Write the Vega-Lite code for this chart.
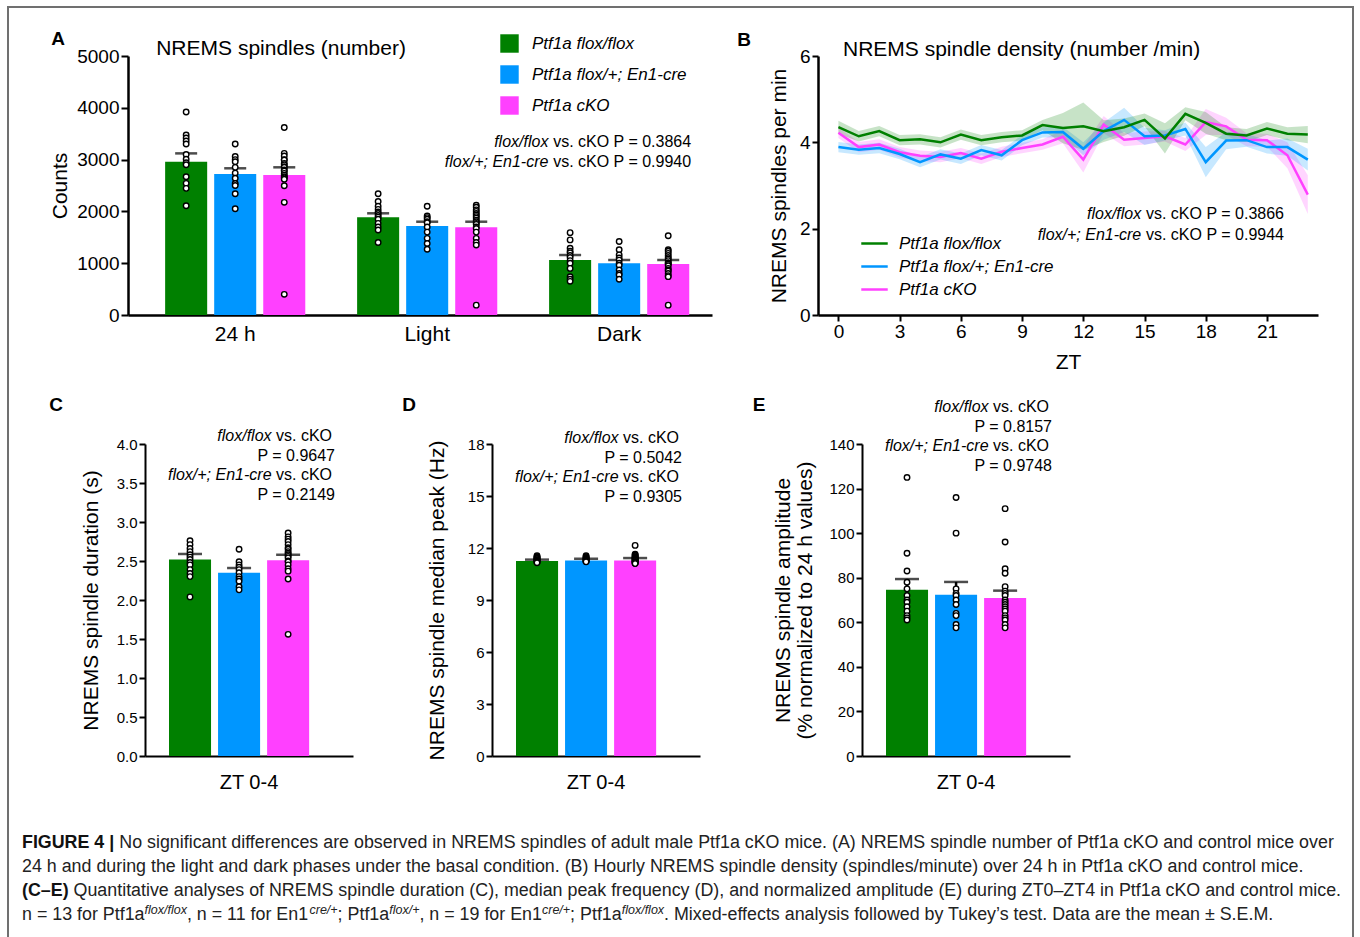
{
"$schema":"https://vega.github.io/schema/vega-lite/v6.json",
"background":"white",
"padding":{"left":7,"top":6,"right":0,"bottom":0},
"config":{"view":{"stroke":null},"font":"Liberation Sans",
"axis":{"domainColor":"black","domainWidth":2.5,"tickColor":"black","tickWidth":2,"labelColor":"black","titleColor":"black","labelFont":"Liberation Sans","titleFont":"Liberation Sans","titleFontWeight":"normal","grid":false,"labelFlush":false,"labelOverlap":false,"labelBound":false},
"text":{"font":"Liberation Sans","color":"black"},
"legend":{"labelFont":"Liberation Sans","labelColor":"black"}},
"datasets":{
"a_bars":[{"p":"24 h","g":"ff","m":2960,"u":3120},{"p":"24 h","g":"fc","m":2722,"u":2832},{"p":"24 h","g":"ko","m":2703,"u":2851},{"p":"Light","g":"ff","m":1886,"u":1963},{"p":"Light","g":"fc","m":1718,"u":1801},{"p":"Light","g":"ko","m":1693,"u":1801},{"p":"Dark","g":"ff","m":1062,"u":1158},{"p":"Dark","g":"fc","m":998,"u":1062},{"p":"Dark","g":"ko","m":985,"u":1062}],
"a_dots":[
{"p":"24 h","g":"ff","v":3920},{"p":"24 h","g":"ff","v":3475},{"p":"24 h","g":"ff","v":3417},{"p":"24 h","g":"ff","v":3360},{"p":"24 h","g":"ff","v":3301},{"p":"24 h","g":"ff","v":3100},{"p":"24 h","g":"ff","v":3006},{"p":"24 h","g":"ff","v":2940},{"p":"24 h","g":"ff","v":2900},{"p":"24 h","g":"ff","v":2670},{"p":"24 h","g":"ff","v":2542},{"p":"24 h","g":"ff","v":2445},{"p":"24 h","g":"ff","v":2110},
{"p":"24 h","g":"fc","v":3300},{"p":"24 h","g":"fc","v":3060},{"p":"24 h","g":"fc","v":3000},{"p":"24 h","g":"fc","v":2960},{"p":"24 h","g":"fc","v":2850},{"p":"24 h","g":"fc","v":2740},{"p":"24 h","g":"fc","v":2640},{"p":"24 h","g":"fc","v":2540},{"p":"24 h","g":"fc","v":2500},{"p":"24 h","g":"fc","v":2340},{"p":"24 h","g":"fc","v":2050},
{"p":"24 h","g":"ko","v":3620},{"p":"24 h","g":"ko","v":3121},{"p":"24 h","g":"ko","v":3069},{"p":"24 h","g":"ko","v":3000},{"p":"24 h","g":"ko","v":2992},{"p":"24 h","g":"ko","v":2928},{"p":"24 h","g":"ko","v":2900},{"p":"24 h","g":"ko","v":2863},{"p":"24 h","g":"ko","v":2850},{"p":"24 h","g":"ko","v":2799},{"p":"24 h","g":"ko","v":2780},{"p":"24 h","g":"ko","v":2735},{"p":"24 h","g":"ko","v":2700},{"p":"24 h","g":"ko","v":2670},{"p":"24 h","g":"ko","v":2650},{"p":"24 h","g":"ko","v":2620},{"p":"24 h","g":"ko","v":2496},{"p":"24 h","g":"ko","v":2175},{"p":"24 h","g":"ko","v":399},
{"p":"Light","g":"ff","v":2340},{"p":"Light","g":"ff","v":2190},{"p":"Light","g":"ff","v":2100},{"p":"Light","g":"ff","v":2040},{"p":"Light","g":"ff","v":1990},{"p":"Light","g":"ff","v":1960},{"p":"Light","g":"ff","v":1920},{"p":"Light","g":"ff","v":1890},{"p":"Light","g":"ff","v":1850},{"p":"Light","g":"ff","v":1770},{"p":"Light","g":"ff","v":1700},{"p":"Light","g":"ff","v":1640},{"p":"Light","g":"ff","v":1400},
{"p":"Light","g":"fc","v":2100},{"p":"Light","g":"fc","v":1910},{"p":"Light","g":"fc","v":1880},{"p":"Light","g":"fc","v":1850},{"p":"Light","g":"fc","v":1800},{"p":"Light","g":"fc","v":1780},{"p":"Light","g":"fc","v":1700},{"p":"Light","g":"fc","v":1600},{"p":"Light","g":"fc","v":1480},{"p":"Light","g":"fc","v":1380},{"p":"Light","g":"fc","v":1270},
{"p":"Light","g":"ko","v":2120},{"p":"Light","g":"ko","v":2080},{"p":"Light","g":"ko","v":2030},{"p":"Light","g":"ko","v":2000},{"p":"Light","g":"ko","v":1960},{"p":"Light","g":"ko","v":1930},{"p":"Light","g":"ko","v":1900},{"p":"Light","g":"ko","v":1870},{"p":"Light","g":"ko","v":1830},{"p":"Light","g":"ko","v":1800},{"p":"Light","g":"ko","v":1770},{"p":"Light","g":"ko","v":1750},{"p":"Light","g":"ko","v":1700},{"p":"Light","g":"ko","v":1670},{"p":"Light","g":"ko","v":1600},{"p":"Light","g":"ko","v":1480},{"p":"Light","g":"ko","v":1400},{"p":"Light","g":"ko","v":1350},{"p":"Light","g":"ko","v":190},
{"p":"Dark","g":"ff","v":1590},{"p":"Dark","g":"ff","v":1450},{"p":"Dark","g":"ff","v":1290},{"p":"Dark","g":"ff","v":1230},{"p":"Dark","g":"ff","v":1200},{"p":"Dark","g":"ff","v":1150},{"p":"Dark","g":"ff","v":1110},{"p":"Dark","g":"ff","v":1050},{"p":"Dark","g":"ff","v":1000},{"p":"Dark","g":"ff","v":900},{"p":"Dark","g":"ff","v":740},{"p":"Dark","g":"ff","v":690},{"p":"Dark","g":"ff","v":650},
{"p":"Dark","g":"fc","v":1420},{"p":"Dark","g":"fc","v":1260},{"p":"Dark","g":"fc","v":1160},{"p":"Dark","g":"fc","v":1100},{"p":"Dark","g":"fc","v":1060},{"p":"Dark","g":"fc","v":1000},{"p":"Dark","g":"fc","v":960},{"p":"Dark","g":"fc","v":870},{"p":"Dark","g":"fc","v":800},{"p":"Dark","g":"fc","v":770},{"p":"Dark","g":"fc","v":690},
{"p":"Dark","g":"ko","v":1530},{"p":"Dark","g":"ko","v":1260},{"p":"Dark","g":"ko","v":1230},{"p":"Dark","g":"ko","v":1190},{"p":"Dark","g":"ko","v":1150},{"p":"Dark","g":"ko","v":1110},{"p":"Dark","g":"ko","v":1080},{"p":"Dark","g":"ko","v":1050},{"p":"Dark","g":"ko","v":1010},{"p":"Dark","g":"ko","v":1000},{"p":"Dark","g":"ko","v":980},{"p":"Dark","g":"ko","v":950},{"p":"Dark","g":"ko","v":900},{"p":"Dark","g":"ko","v":870},{"p":"Dark","g":"ko","v":850},{"p":"Dark","g":"ko","v":800},{"p":"Dark","g":"ko","v":760},{"p":"Dark","g":"ko","v":740},{"p":"Dark","g":"ko","v":190}],
"b":[
{"z":0,"g":"ko","m":4.22,"lo":4.10,"hi":4.34},{"z":1,"g":"ko","m":3.89,"lo":3.77,"hi":4.01},{"z":2,"g":"ko","m":3.95,"lo":3.83,"hi":4.07},{"z":3,"g":"ko","m":3.77,"lo":3.65,"hi":3.89},{"z":4,"g":"ko","m":3.69,"lo":3.57,"hi":3.81},{"z":5,"g":"ko","m":3.66,"lo":3.54,"hi":3.78},{"z":6,"g":"ko","m":3.75,"lo":3.63,"hi":3.87},{"z":7,"g":"ko","m":3.62,"lo":3.50,"hi":3.74},{"z":8,"g":"ko","m":3.78,"lo":3.66,"hi":3.90},{"z":9,"g":"ko","m":3.87,"lo":3.75,"hi":3.99},{"z":10,"g":"ko","m":3.95,"lo":3.83,"hi":4.07},{"z":11,"g":"ko","m":4.13,"lo":3.98,"hi":4.28},{"z":12,"g":"ko","m":3.60,"lo":3.30,"hi":3.90},{"z":13,"g":"ko","m":4.41,"lo":4.21,"hi":4.61},{"z":14,"g":"ko","m":4.06,"lo":3.91,"hi":4.21},{"z":15,"g":"ko","m":4.10,"lo":3.95,"hi":4.25},{"z":16,"g":"ko","m":4.14,"lo":4.02,"hi":4.26},{"z":17,"g":"ko","m":3.95,"lo":3.80,"hi":4.10},{"z":18,"g":"ko","m":4.47,"lo":4.17,"hi":4.77},{"z":19,"g":"ko","m":4.37,"lo":4.17,"hi":4.57},{"z":20,"g":"ko","m":4.06,"lo":3.91,"hi":4.21},{"z":21,"g":"ko","m":4.05,"lo":3.90,"hi":4.20},{"z":22,"g":"ko","m":3.70,"lo":3.40,"hi":4.00},{"z":23,"g":"ko","m":2.79,"lo":2.34,"hi":3.24},
{"z":0,"g":"fc","m":3.89,"lo":3.77,"hi":4.01},{"z":1,"g":"fc","m":3.83,"lo":3.71,"hi":3.95},{"z":2,"g":"fc","m":3.87,"lo":3.75,"hi":3.99},{"z":3,"g":"fc","m":3.73,"lo":3.61,"hi":3.85},{"z":4,"g":"fc","m":3.54,"lo":3.42,"hi":3.66},{"z":5,"g":"fc","m":3.72,"lo":3.60,"hi":3.84},{"z":6,"g":"fc","m":3.62,"lo":3.50,"hi":3.74},{"z":7,"g":"fc","m":3.82,"lo":3.70,"hi":3.94},{"z":8,"g":"fc","m":3.70,"lo":3.58,"hi":3.82},{"z":9,"g":"fc","m":4.05,"lo":3.93,"hi":4.17},{"z":10,"g":"fc","m":4.23,"lo":4.11,"hi":4.35},{"z":11,"g":"fc","m":4.24,"lo":4.12,"hi":4.36},{"z":12,"g":"fc","m":3.85,"lo":3.70,"hi":4.00},{"z":13,"g":"fc","m":4.26,"lo":4.06,"hi":4.46},{"z":14,"g":"fc","m":4.52,"lo":4.24,"hi":4.80},{"z":15,"g":"fc","m":4.14,"lo":3.94,"hi":4.34},{"z":16,"g":"fc","m":4.16,"lo":4.04,"hi":4.28},{"z":17,"g":"fc","m":4.31,"lo":4.16,"hi":4.46},{"z":18,"g":"fc","m":3.54,"lo":3.19,"hi":3.89},{"z":19,"g":"fc","m":4.04,"lo":3.84,"hi":4.24},{"z":20,"g":"fc","m":4.05,"lo":3.90,"hi":4.20},{"z":21,"g":"fc","m":3.89,"lo":3.74,"hi":4.04},{"z":22,"g":"fc","m":3.89,"lo":3.69,"hi":4.09},{"z":23,"g":"fc","m":3.60,"lo":3.35,"hi":3.85},
{"z":0,"g":"ff","m":4.35,"lo":4.20,"hi":4.50},{"z":1,"g":"ff","m":4.14,"lo":4.02,"hi":4.26},{"z":2,"g":"ff","m":4.26,"lo":4.14,"hi":4.38},{"z":3,"g":"ff","m":4.05,"lo":3.93,"hi":4.17},{"z":4,"g":"ff","m":4.07,"lo":3.95,"hi":4.19},{"z":5,"g":"ff","m":4.00,"lo":3.88,"hi":4.12},{"z":6,"g":"ff","m":4.18,"lo":4.06,"hi":4.30},{"z":7,"g":"ff","m":4.05,"lo":3.93,"hi":4.17},{"z":8,"g":"ff","m":4.12,"lo":4.00,"hi":4.24},{"z":9,"g":"ff","m":4.16,"lo":4.04,"hi":4.28},{"z":10,"g":"ff","m":4.40,"lo":4.28,"hi":4.52},{"z":11,"g":"ff","m":4.33,"lo":3.98,"hi":4.68},{"z":12,"g":"ff","m":4.37,"lo":3.82,"hi":4.92},{"z":13,"g":"ff","m":4.26,"lo":4.01,"hi":4.51},{"z":14,"g":"ff","m":4.35,"lo":4.15,"hi":4.55},{"z":15,"g":"ff","m":4.52,"lo":4.37,"hi":4.67},{"z":16,"g":"ff","m":4.09,"lo":3.74,"hi":4.44},{"z":17,"g":"ff","m":4.66,"lo":4.51,"hi":4.81},{"z":18,"g":"ff","m":4.45,"lo":4.20,"hi":4.70},{"z":19,"g":"ff","m":4.20,"lo":4.05,"hi":4.35},{"z":20,"g":"ff","m":4.16,"lo":4.01,"hi":4.31},{"z":21,"g":"ff","m":4.32,"lo":4.17,"hi":4.47},{"z":22,"g":"ff","m":4.20,"lo":4.05,"hi":4.35},{"z":23,"g":"ff","m":4.18,"lo":3.98,"hi":4.38}],
"c_bars":[{"p":"ZT 0-4","g":"ff","m":2.52,"u":2.59},{"p":"ZT 0-4","g":"fc","m":2.35,"u":2.41},{"p":"ZT 0-4","g":"ko","m":2.51,"u":2.58}],
"c_dots":[
{"p":"ZT 0-4","g":"ff","v":2.76},{"p":"ZT 0-4","g":"ff","v":2.71},{"p":"ZT 0-4","g":"ff","v":2.66},{"p":"ZT 0-4","g":"ff","v":2.62},{"p":"ZT 0-4","g":"ff","v":2.58},{"p":"ZT 0-4","g":"ff","v":2.55},{"p":"ZT 0-4","g":"ff","v":2.52},{"p":"ZT 0-4","g":"ff","v":2.48},{"p":"ZT 0-4","g":"ff","v":2.45},{"p":"ZT 0-4","g":"ff","v":2.39},{"p":"ZT 0-4","g":"ff","v":2.34},{"p":"ZT 0-4","g":"ff","v":2.30},{"p":"ZT 0-4","g":"ff","v":2.04},
{"p":"ZT 0-4","g":"fc","v":2.65},{"p":"ZT 0-4","g":"fc","v":2.49},{"p":"ZT 0-4","g":"fc","v":2.45},{"p":"ZT 0-4","g":"fc","v":2.42},{"p":"ZT 0-4","g":"fc","v":2.39},{"p":"ZT 0-4","g":"fc","v":2.35},{"p":"ZT 0-4","g":"fc","v":2.30},{"p":"ZT 0-4","g":"fc","v":2.27},{"p":"ZT 0-4","g":"fc","v":2.24},{"p":"ZT 0-4","g":"fc","v":2.17},{"p":"ZT 0-4","g":"fc","v":2.13},
{"p":"ZT 0-4","g":"ko","v":2.86},{"p":"ZT 0-4","g":"ko","v":2.81},{"p":"ZT 0-4","g":"ko","v":2.78},{"p":"ZT 0-4","g":"ko","v":2.75},{"p":"ZT 0-4","g":"ko","v":2.71},{"p":"ZT 0-4","g":"ko","v":2.67},{"p":"ZT 0-4","g":"ko","v":2.65},{"p":"ZT 0-4","g":"ko","v":2.62},{"p":"ZT 0-4","g":"ko","v":2.60},{"p":"ZT 0-4","g":"ko","v":2.58},{"p":"ZT 0-4","g":"ko","v":2.56},{"p":"ZT 0-4","g":"ko","v":2.54},{"p":"ZT 0-4","g":"ko","v":2.50},{"p":"ZT 0-4","g":"ko","v":2.49},{"p":"ZT 0-4","g":"ko","v":2.45},{"p":"ZT 0-4","g":"ko","v":2.40},{"p":"ZT 0-4","g":"ko","v":2.37},{"p":"ZT 0-4","g":"ko","v":2.27},{"p":"ZT 0-4","g":"ko","v":1.56}],
"d_bars":[{"p":"ZT 0-4","g":"ff","m":11.25,"u":11.33},{"p":"ZT 0-4","g":"fc","m":11.28,"u":11.38},{"p":"ZT 0-4","g":"ko","m":11.28,"u":11.42}],
"d_dots":[
{"p":"ZT 0-4","g":"ff","v":11.55},{"p":"ZT 0-4","g":"ff","v":11.5},{"p":"ZT 0-4","g":"ff","v":11.45},{"p":"ZT 0-4","g":"ff","v":11.42},{"p":"ZT 0-4","g":"ff","v":11.4},{"p":"ZT 0-4","g":"ff","v":11.35},{"p":"ZT 0-4","g":"ff","v":11.33},{"p":"ZT 0-4","g":"ff","v":11.3},{"p":"ZT 0-4","g":"ff","v":11.28},{"p":"ZT 0-4","g":"ff","v":11.25},{"p":"ZT 0-4","g":"ff","v":11.2},{"p":"ZT 0-4","g":"ff","v":11.18},{"p":"ZT 0-4","g":"ff","v":11.15},
{"p":"ZT 0-4","g":"fc","v":11.55},{"p":"ZT 0-4","g":"fc","v":11.5},{"p":"ZT 0-4","g":"fc","v":11.45},{"p":"ZT 0-4","g":"fc","v":11.4},{"p":"ZT 0-4","g":"fc","v":11.38},{"p":"ZT 0-4","g":"fc","v":11.35},{"p":"ZT 0-4","g":"fc","v":11.3},{"p":"ZT 0-4","g":"fc","v":11.28},{"p":"ZT 0-4","g":"fc","v":11.25},{"p":"ZT 0-4","g":"fc","v":11.22},{"p":"ZT 0-4","g":"fc","v":11.2},
{"p":"ZT 0-4","g":"ko","v":12.15},{"p":"ZT 0-4","g":"ko","v":11.65},{"p":"ZT 0-4","g":"ko","v":11.6},{"p":"ZT 0-4","g":"ko","v":11.55},{"p":"ZT 0-4","g":"ko","v":11.5},{"p":"ZT 0-4","g":"ko","v":11.45},{"p":"ZT 0-4","g":"ko","v":11.43},{"p":"ZT 0-4","g":"ko","v":11.4},{"p":"ZT 0-4","g":"ko","v":11.38},{"p":"ZT 0-4","g":"ko","v":11.35},{"p":"ZT 0-4","g":"ko","v":11.3},{"p":"ZT 0-4","g":"ko","v":11.28},{"p":"ZT 0-4","g":"ko","v":11.25},{"p":"ZT 0-4","g":"ko","v":11.23},{"p":"ZT 0-4","g":"ko","v":11.2},{"p":"ZT 0-4","g":"ko","v":11.18},{"p":"ZT 0-4","g":"ko","v":11.15},{"p":"ZT 0-4","g":"ko","v":11.12},{"p":"ZT 0-4","g":"ko","v":11.1}],
"e_bars":[{"p":"ZT 0-4","g":"ff","m":74.6,"u":79.4},{"p":"ZT 0-4","g":"fc","m":72.4,"u":78.1},{"p":"ZT 0-4","g":"ko","m":70.9,"u":74.2}],
"e_dots":[
{"p":"ZT 0-4","g":"ff","v":125},{"p":"ZT 0-4","g":"ff","v":91},{"p":"ZT 0-4","g":"ff","v":83},{"p":"ZT 0-4","g":"ff","v":78},{"p":"ZT 0-4","g":"ff","v":75},{"p":"ZT 0-4","g":"ff","v":72},{"p":"ZT 0-4","g":"ff","v":70},{"p":"ZT 0-4","g":"ff","v":69},{"p":"ZT 0-4","g":"ff","v":67},{"p":"ZT 0-4","g":"ff","v":65},{"p":"ZT 0-4","g":"ff","v":63},{"p":"ZT 0-4","g":"ff","v":62},{"p":"ZT 0-4","g":"ff","v":61},
{"p":"ZT 0-4","g":"fc","v":116},{"p":"ZT 0-4","g":"fc","v":100},{"p":"ZT 0-4","g":"fc","v":75},{"p":"ZT 0-4","g":"fc","v":73},{"p":"ZT 0-4","g":"fc","v":72},{"p":"ZT 0-4","g":"fc","v":70},{"p":"ZT 0-4","g":"fc","v":68},{"p":"ZT 0-4","g":"fc","v":64},{"p":"ZT 0-4","g":"fc","v":63},{"p":"ZT 0-4","g":"fc","v":59},{"p":"ZT 0-4","g":"fc","v":57.5},
{"p":"ZT 0-4","g":"ko","v":111},{"p":"ZT 0-4","g":"ko","v":96},{"p":"ZT 0-4","g":"ko","v":84},{"p":"ZT 0-4","g":"ko","v":82},{"p":"ZT 0-4","g":"ko","v":76},{"p":"ZT 0-4","g":"ko","v":74},{"p":"ZT 0-4","g":"ko","v":73},{"p":"ZT 0-4","g":"ko","v":72},{"p":"ZT 0-4","g":"ko","v":70},{"p":"ZT 0-4","g":"ko","v":69},{"p":"ZT 0-4","g":"ko","v":68},{"p":"ZT 0-4","g":"ko","v":67},{"p":"ZT 0-4","g":"ko","v":66},{"p":"ZT 0-4","g":"ko","v":65},{"p":"ZT 0-4","g":"ko","v":63},{"p":"ZT 0-4","g":"ko","v":62},{"p":"ZT 0-4","g":"ko","v":61},{"p":"ZT 0-4","g":"ko","v":59},{"p":"ZT 0-4","g":"ko","v":57.5}]
},
"hconcat":[
{"width":2,"height":933,"view":{"fill":"#707070"},"mark":"text","data":{"values":[]},"encoding":{}},
{"vconcat":[
 {"width":1343,"height":2,"view":{"fill":"#707070"},"mark":"text","data":{"values":[]},"encoding":{}},
 {"width":1343,"height":22,"mark":"text","data":{"values":[]},"encoding":{}},
 {"hconcat":[
  {"width":119,"height":259,"mark":"text","data":{"values":[]},"encoding":{}},
  {"width":584,"height":259,
   "layer":[
    {"data":{"name":"a_bars"},"mark":{"type":"bar"},"encoding":{
      "x":{"field":"p","type":"nominal","scale":{"domain":["24 h","Light","Dark"],"paddingInner":0.27,"paddingOuter":0.156,"align":0.62},"axis":{"title":null,"labelAngle":0,"labelFontSize":21,"ticks":false,"labelPadding":8}},
      "xOffset":{"field":"g","type":"nominal","scale":{"domain":["ff","fc","ko"],"paddingInner":0.143,"paddingOuter":0}},
      "y":{"field":"m","type":"quantitative","scale":{"domain":[0,5000],"nice":false},"axis":{"values":[0,1000,2000,3000,4000,5000],"format":"d","title":"Counts","labelFontSize":19,"titleFontSize":21,"titlePadding":6,"tickSize":7,"labelOverlap":false}},
      "color":{"field":"g","type":"nominal","scale":{"domain":["ff","fc","ko"],"range":["#008000","#0096ff","#ff40ff"]},"legend":{"orient":"none","legendX":372,"legendY":-22,"title":null,"symbolType":"square","symbolSize":340,"symbolStrokeWidth":0,"symbolOpacity":1,"labelFontSize":17,"labelFontStyle":"italic","labelOffset":13,"rowPadding":12,"labelExpr":"datum.value == 'ff' ? 'Ptf1a flox/flox' : datum.value == 'fc' ? 'Ptf1a flox/+; En1-cre' : 'Ptf1a cKO'"}}}},
    {"data":{"name":"a_bars"},"mark":{"type":"rule","color":"black","strokeWidth":2.5},"encoding":{"x":{"field":"p","type":"nominal","axis":{"title":null,"labelAngle":0,"labelFontSize":21,"ticks":false,"labelPadding":8}},"xOffset":{"field":"g","type":"nominal"},"y":{"field":"m","type":"quantitative","axis":{"values":[0,1000,2000,3000,4000,5000],"format":"d","title":"Counts","labelFontSize":19,"titleFontSize":21,"titlePadding":6,"tickSize":7,"labelOverlap":false}},"y2":{"field":"u"}}},
    {"data":{"name":"a_bars"},"mark":{"type":"tick","color":"black","size":22,"thickness":2.5},"encoding":{"x":{"field":"p","type":"nominal","axis":{"title":null,"labelAngle":0,"labelFontSize":21,"ticks":false,"labelPadding":8}},"xOffset":{"field":"g","type":"nominal"},"y":{"field":"u","type":"quantitative","axis":{"values":[0,1000,2000,3000,4000,5000],"format":"d","title":"Counts","labelFontSize":19,"titleFontSize":21,"titlePadding":6,"tickSize":7,"labelOverlap":false}}}},
    {"data":{"name":"a_dots"},"mark":{"type":"point","shape":"circle","filled":true,"fill":"white","stroke":"black","strokeWidth":1.4,"size":30,"opacity":1},"encoding":{"x":{"field":"p","type":"nominal","axis":{"title":null,"labelAngle":0,"labelFontSize":21,"ticks":false,"labelPadding":8}},"xOffset":{"field":"g","type":"nominal"},"y":{"field":"v","type":"quantitative","axis":{"values":[0,1000,2000,3000,4000,5000],"format":"d","title":"Counts","labelFontSize":19,"titleFontSize":21,"titlePadding":6,"tickSize":7,"labelOverlap":false}}}},
    {"data":{"values":[{}]},"mark":{"type":"text","fontSize":19,"fontWeight":"bold","align":"center","baseline":"middle","dx":-177,"dy":-17},"encoding":{"x":{"datum":"24 h","type":"nominal","axis":{"title":null,"labelAngle":0,"labelFontSize":21,"ticks":false,"labelPadding":8}},"y":{"datum":5000,"type":"quantitative","axis":{"values":[0,1000,2000,3000,4000,5000],"format":"d","title":"Counts","labelFontSize":19,"titleFontSize":21,"titlePadding":6,"tickSize":7,"labelOverlap":false}},"text":{"value":"A"}}},
    {"data":{"values":[{}]},"mark":{"type":"text","fontSize":21,"align":"left","baseline":"middle","dx":-79,"dy":-7},"encoding":{"x":{"datum":"24 h","type":"nominal","axis":{"title":null,"labelAngle":0,"labelFontSize":21,"ticks":false,"labelPadding":8}},"y":{"datum":5000,"type":"quantitative","axis":{"values":[0,1000,2000,3000,4000,5000],"format":"d","title":"Counts","labelFontSize":19,"titleFontSize":21,"titlePadding":6,"tickSize":7,"labelOverlap":false}},"text":{"value":"NREMS spindles (number)"}}},
    {"data":{"values":[{}]},"mark":{"type":"text","fontSize":16,"align":"right","baseline":"top","lineHeight":20,"dx":72},"encoding":{"x":{"datum":"Dark","type":"nominal","axis":{"title":null,"labelAngle":0,"labelFontSize":21,"ticks":false,"labelPadding":8}},"y":{"datum":3500,"type":"quantitative","axis":{"values":[0,1000,2000,3000,4000,5000],"format":"d","title":"Counts","labelFontSize":19,"titleFontSize":21,"titlePadding":6,"tickSize":7,"labelOverlap":false}},"text":{"value":["vs. cKO P = 0.3864","vs. cKO P = 0.9940"]}}},
    {"data":{"values":[{}]},"mark":{"type":"text","fontSize":16,"fontStyle":"italic","align":"right","baseline":"top","lineHeight":20,"dx":-70.75},"encoding":{"x":{"datum":"Dark","type":"nominal","axis":{"title":null,"labelAngle":0,"labelFontSize":21,"ticks":false,"labelPadding":8}},"y":{"datum":3500,"type":"quantitative","axis":{"values":[0,1000,2000,3000,4000,5000],"format":"d","title":"Counts","labelFontSize":19,"titleFontSize":21,"titlePadding":6,"tickSize":7,"labelOverlap":false}},"text":{"value":["flox/flox","flox/+; En1-cre"]}}}
   ]},
  {"width":106,"height":259,"mark":"text","data":{"values":[]},"encoding":{}},
  {"width":500,"height":259,
   "layer":[
    {"data":{"name":"b"},"transform":[{"filter":"datum.g == 'ko'"}],"mark":{"type":"area","opacity":0.22,"color":"#ff40ff"},"encoding":{
      "x":{"field":"z","type":"quantitative","scale":{"domain":[-1,23.5],"nice":false,"zero":false},"axis":{"values":[0,3,6,9,12,15,18,21],"format":"d","title":"ZT","titleFontSize":21,"titlePadding":10,"labelFontSize":19,"tickSize":6,"labelPadding":1,"labelOverlap":false}},
      "y":{"field":"lo","type":"quantitative","scale":{"domain":[0,6],"nice":false},"axis":{"values":[0,2,4,6],"format":"d","title":"NREMS spindles per min","titleFontSize":21,"titlePadding":10,"labelFontSize":19,"tickSize":6,"labelOverlap":false}},
      "y2":{"field":"hi"}}},
    {"data":{"name":"b"},"transform":[{"filter":"datum.g == 'fc'"}],"mark":{"type":"area","opacity":0.22,"color":"#0096ff"},"encoding":{
      "x":{"field":"z","type":"quantitative","axis":{"values":[0,3,6,9,12,15,18,21],"format":"d","title":"ZT","titleFontSize":21,"titlePadding":10,"labelFontSize":19,"tickSize":6,"labelPadding":1,"labelOverlap":false}},
      "y":{"field":"lo","type":"quantitative","axis":{"values":[0,2,4,6],"format":"d","title":"NREMS spindles per min","titleFontSize":21,"titlePadding":10,"labelFontSize":19,"tickSize":6,"labelOverlap":false}},
      "y2":{"field":"hi"}}},
    {"data":{"name":"b"},"transform":[{"filter":"datum.g == 'ff'"}],"mark":{"type":"area","opacity":0.22,"color":"#008000"},"encoding":{
      "x":{"field":"z","type":"quantitative","axis":{"values":[0,3,6,9,12,15,18,21],"format":"d","title":"ZT","titleFontSize":21,"titlePadding":10,"labelFontSize":19,"tickSize":6,"labelPadding":1,"labelOverlap":false}},
      "y":{"field":"lo","type":"quantitative","axis":{"values":[0,2,4,6],"format":"d","title":"NREMS spindles per min","titleFontSize":21,"titlePadding":10,"labelFontSize":19,"tickSize":6,"labelOverlap":false}},
      "y2":{"field":"hi"}}},
    {"data":{"name":"b"},"mark":{"type":"line","strokeWidth":2.5},"encoding":{
      "x":{"field":"z","type":"quantitative","axis":{"values":[0,3,6,9,12,15,18,21],"format":"d","title":"ZT","titleFontSize":21,"titlePadding":10,"labelFontSize":19,"tickSize":6,"labelPadding":1,"labelOverlap":false}},
      "y":{"field":"m","type":"quantitative","axis":{"values":[0,2,4,6],"format":"d","title":"NREMS spindles per min","titleFontSize":21,"titlePadding":10,"labelFontSize":19,"tickSize":6,"labelOverlap":false}},
      "color":{"field":"g","type":"nominal","scale":{"domain":["ff","fc","ko"],"range":["#008000","#0096ff","#ff40ff"]},"legend":{"orient":"none","legendX":42,"legendY":173,"title":null,"symbolType":"stroke","symbolSize":700,"symbolStrokeWidth":2.5,"symbolOpacity":1,"labelFontSize":17,"labelFontStyle":"italic","labelOffset":10,"rowPadding":-3,"labelExpr":"datum.value == 'ff' ? 'Ptf1a flox/flox' : datum.value == 'fc' ? 'Ptf1a flox/+; En1-cre' : 'Ptf1a cKO'"}}}},
    {"data":{"values":[{}]},"mark":{"type":"text","fontSize":19,"fontWeight":"bold","align":"center","baseline":"middle","dx":-74,"dy":-16},"encoding":{"x":{"datum":-1,"type":"quantitative","axis":{"values":[0,3,6,9,12,15,18,21],"format":"d","title":"ZT","titleFontSize":21,"titlePadding":10,"labelFontSize":19,"tickSize":6,"labelPadding":1,"labelOverlap":false}},"y":{"datum":6,"type":"quantitative","axis":{"values":[0,2,4,6],"format":"d","title":"NREMS spindles per min","titleFontSize":21,"titlePadding":10,"labelFontSize":19,"tickSize":6,"labelOverlap":false}},"text":{"value":"B"}}},
    {"data":{"values":[{}]},"mark":{"type":"text","fontSize":21,"align":"left","baseline":"middle","dx":4.6,"dy":-6},"encoding":{"x":{"datum":0,"type":"quantitative","axis":{"values":[0,3,6,9,12,15,18,21],"format":"d","title":"ZT","titleFontSize":21,"titlePadding":10,"labelFontSize":19,"tickSize":6,"labelPadding":1,"labelOverlap":false}},"y":{"datum":6,"type":"quantitative","axis":{"values":[0,2,4,6],"format":"d","title":"NREMS spindles per min","titleFontSize":21,"titlePadding":10,"labelFontSize":19,"tickSize":6,"labelOverlap":false}},"text":{"value":"NREMS spindle density (number /min)"}}},
    {"data":{"values":[{}]},"mark":{"type":"text","fontSize":16,"align":"right","baseline":"top","lineHeight":21,"dx":-3.4},"encoding":{"x":{"datum":22,"type":"quantitative","axis":{"values":[0,3,6,9,12,15,18,21],"format":"d","title":"ZT","titleFontSize":21,"titlePadding":10,"labelFontSize":19,"tickSize":6,"labelPadding":1,"labelOverlap":false}},"y":{"datum":2.525,"type":"quantitative","axis":{"values":[0,2,4,6],"format":"d","title":"NREMS spindles per min","titleFontSize":21,"titlePadding":10,"labelFontSize":19,"tickSize":6,"labelOverlap":false}},"text":{"value":["vs. cKO P = 0.3866","vs. cKO P = 0.9944"]}}},
    {"data":{"values":[{}]},"mark":{"type":"text","fontSize":16,"fontStyle":"italic","align":"right","baseline":"top","lineHeight":21,"dx":-146.15},"encoding":{"x":{"datum":22,"type":"quantitative","axis":{"values":[0,3,6,9,12,15,18,21],"format":"d","title":"ZT","titleFontSize":21,"titlePadding":10,"labelFontSize":19,"tickSize":6,"labelPadding":1,"labelOverlap":false}},"y":{"datum":2.525,"type":"quantitative","axis":{"values":[0,2,4,6],"format":"d","title":"NREMS spindles per min","titleFontSize":21,"titlePadding":10,"labelFontSize":19,"tickSize":6,"labelOverlap":false}},"text":{"value":["flox/flox","flox/+; En1-cre"]}}}
   ]},
  {"width":34,"height":259,"mark":"text","data":{"values":[]},"encoding":{}}
 ],"spacing":0,"bounds":"flush","resolve":{"scale":{"color":"independent"},"legend":{"color":"independent"}}},
 {"width":1343,"height":24,"mark":"text","data":{"values":[]},"encoding":{}},
 {"hconcat":[
  {"width":136,"height":312,"mark":"text","data":{"values":[]},"encoding":{}},
  {"width":208,"height":312,
   "layer":[
    {"data":{"name":"c_bars"},"mark":{"type":"bar"},"encoding":{
      "x":{"field":"p","type":"nominal","scale":{"domain":["ZT 0-4"],"paddingInner":0,"paddingOuter":0.15},"axis":{"title":null,"labelAngle":0,"labelFontSize":20,"ticks":false,"labelPadding":16,"domainWidth":2}},
      "xOffset":{"field":"g","type":"nominal","scale":{"domain":["ff","fc","ko"],"paddingInner":0.168,"paddingOuter":0}},
      "y":{"field":"m","type":"quantitative","scale":{"domain":[0,4],"nice":false},"axis":{"values":[0,0.5,1,1.5,2,2.5,3,3.5,4],"format":".1f","title":"NREMS spindle duration (s)","labelFontSize":15,"titleFontSize":21,"titlePadding":15,"tickSize":6,"domainWidth":2,"labelOverlap":false}},
      "color":{"field":"g","type":"nominal","scale":{"domain":["ff","fc","ko"],"range":["#008000","#0096ff","#ff40ff"]},"legend":null}}},
    {"data":{"name":"c_bars"},"mark":{"type":"rule","color":"black","strokeWidth":2.5},"encoding":{"x":{"field":"p","type":"nominal","axis":{"title":null,"labelAngle":0,"labelFontSize":20,"ticks":false,"labelPadding":16,"domainWidth":2}},"xOffset":{"field":"g","type":"nominal"},"y":{"field":"m","type":"quantitative","axis":{"values":[0,0.5,1,1.5,2,2.5,3,3.5,4],"format":".1f","title":"NREMS spindle duration (s)","labelFontSize":15,"titleFontSize":21,"titlePadding":15,"tickSize":6,"domainWidth":2,"labelOverlap":false}},"y2":{"field":"u"}}},
    {"data":{"name":"c_bars"},"mark":{"type":"tick","color":"black","size":24,"thickness":2.5},"encoding":{"x":{"field":"p","type":"nominal","axis":{"title":null,"labelAngle":0,"labelFontSize":20,"ticks":false,"labelPadding":16,"domainWidth":2}},"xOffset":{"field":"g","type":"nominal"},"y":{"field":"u","type":"quantitative","axis":{"values":[0,0.5,1,1.5,2,2.5,3,3.5,4],"format":".1f","title":"NREMS spindle duration (s)","labelFontSize":15,"titleFontSize":21,"titlePadding":15,"tickSize":6,"domainWidth":2,"labelOverlap":false}}}},
    {"data":{"name":"c_dots"},"mark":{"type":"point","shape":"circle","filled":true,"fill":"white","stroke":"black","strokeWidth":1.4,"size":30,"opacity":1},"encoding":{"x":{"field":"p","type":"nominal","axis":{"title":null,"labelAngle":0,"labelFontSize":20,"ticks":false,"labelPadding":16,"domainWidth":2}},"xOffset":{"field":"g","type":"nominal"},"y":{"field":"v","type":"quantitative","axis":{"values":[0,0.5,1,1.5,2,2.5,3,3.5,4],"format":".1f","title":"NREMS spindle duration (s)","labelFontSize":15,"titleFontSize":21,"titlePadding":15,"tickSize":6,"domainWidth":2,"labelOverlap":false}}}},
    {"data":{"values":[{}]},"mark":{"type":"text","fontSize":19,"fontWeight":"bold","align":"center","baseline":"middle","dx":-193,"dy":-39},"encoding":{"x":{"datum":"ZT 0-4","type":"nominal","axis":{"title":null,"labelAngle":0,"labelFontSize":20,"ticks":false,"labelPadding":16,"domainWidth":2}},"y":{"datum":4,"type":"quantitative","axis":{"values":[0,0.5,1,1.5,2,2.5,3,3.5,4],"format":".1f","title":"NREMS spindle duration (s)","labelFontSize":15,"titleFontSize":21,"titlePadding":15,"tickSize":6,"domainWidth":2,"labelOverlap":false}},"text":{"value":"C"}}},
    {"data":{"values":[{}]},"mark":{"type":"text","fontSize":16,"align":"right","baseline":"top","lineHeight":39.4,"dx":83},"encoding":{"x":{"datum":"ZT 0-4","type":"nominal","axis":{"title":null,"labelAngle":0,"labelFontSize":20,"ticks":false,"labelPadding":16,"domainWidth":2}},"y":{"datum":4.205,"type":"quantitative","axis":{"values":[0,0.5,1,1.5,2,2.5,3,3.5,4],"format":".1f","title":"NREMS spindle duration (s)","labelFontSize":15,"titleFontSize":21,"titlePadding":15,"tickSize":6,"domainWidth":2,"labelOverlap":false}},"text":{"value":["vs. cKO","vs. cKO"]}}},
    {"data":{"values":[{}]},"mark":{"type":"text","fontSize":16,"align":"right","baseline":"top","lineHeight":39.4,"dx":86,"dy":19.7},"encoding":{"x":{"datum":"ZT 0-4","type":"nominal","axis":{"title":null,"labelAngle":0,"labelFontSize":20,"ticks":false,"labelPadding":16,"domainWidth":2}},"y":{"datum":4.205,"type":"quantitative","axis":{"values":[0,0.5,1,1.5,2,2.5,3,3.5,4],"format":".1f","title":"NREMS spindle duration (s)","labelFontSize":15,"titleFontSize":21,"titlePadding":15,"tickSize":6,"domainWidth":2,"labelOverlap":false}},"text":{"value":["P = 0.9647","P = 0.2149"]}}},
    {"data":{"values":[{}]},"mark":{"type":"text","fontSize":16,"fontStyle":"italic","align":"right","baseline":"top","lineHeight":39.4,"dx":22.54},"encoding":{"x":{"datum":"ZT 0-4","type":"nominal","axis":{"title":null,"labelAngle":0,"labelFontSize":20,"ticks":false,"labelPadding":16,"domainWidth":2}},"y":{"datum":4.205,"type":"quantitative","axis":{"values":[0,0.5,1,1.5,2,2.5,3,3.5,4],"format":".1f","title":"NREMS spindle duration (s)","labelFontSize":15,"titleFontSize":21,"titlePadding":15,"tickSize":6,"domainWidth":2,"labelOverlap":false}},"text":{"value":["flox/flox","flox/+; En1-cre"]}}}
   ]},
  {"width":139,"height":312,"mark":"text","data":{"values":[]},"encoding":{}},
  {"width":208,"height":312,
   "layer":[
    {"data":{"name":"d_bars"},"mark":{"type":"bar"},"encoding":{
      "x":{"field":"p","type":"nominal","scale":{"domain":["ZT 0-4"],"paddingInner":0,"paddingOuter":0.15},"axis":{"title":null,"labelAngle":0,"labelFontSize":20,"ticks":false,"labelPadding":16,"domainWidth":2}},
      "xOffset":{"field":"g","type":"nominal","scale":{"domain":["ff","fc","ko"],"paddingInner":0.168,"paddingOuter":0}},
      "y":{"field":"m","type":"quantitative","scale":{"domain":[0,18],"nice":false},"axis":{"values":[0,3,6,9,12,15,18],"format":"d","title":"NREMS spindle median peak (Hz)","labelFontSize":15,"titleFontSize":21,"titlePadding":20,"tickSize":6,"domainWidth":2,"labelOverlap":false}},
      "color":{"field":"g","type":"nominal","scale":{"domain":["ff","fc","ko"],"range":["#008000","#0096ff","#ff40ff"]},"legend":null}}},
    {"data":{"name":"d_bars"},"mark":{"type":"rule","color":"black","strokeWidth":2.5},"encoding":{"x":{"field":"p","type":"nominal","axis":{"title":null,"labelAngle":0,"labelFontSize":20,"ticks":false,"labelPadding":16,"domainWidth":2}},"xOffset":{"field":"g","type":"nominal"},"y":{"field":"m","type":"quantitative","axis":{"values":[0,3,6,9,12,15,18],"format":"d","title":"NREMS spindle median peak (Hz)","labelFontSize":15,"titleFontSize":21,"titlePadding":20,"tickSize":6,"domainWidth":2,"labelOverlap":false}},"y2":{"field":"u"}}},
    {"data":{"name":"d_bars"},"mark":{"type":"tick","color":"black","size":24,"thickness":2.5},"encoding":{"x":{"field":"p","type":"nominal","axis":{"title":null,"labelAngle":0,"labelFontSize":20,"ticks":false,"labelPadding":16,"domainWidth":2}},"xOffset":{"field":"g","type":"nominal"},"y":{"field":"u","type":"quantitative","axis":{"values":[0,3,6,9,12,15,18],"format":"d","title":"NREMS spindle median peak (Hz)","labelFontSize":15,"titleFontSize":21,"titlePadding":20,"tickSize":6,"domainWidth":2,"labelOverlap":false}}}},
    {"data":{"name":"d_dots"},"mark":{"type":"point","shape":"circle","filled":true,"fill":"white","stroke":"black","strokeWidth":1.4,"size":30,"opacity":1},"encoding":{"x":{"field":"p","type":"nominal","axis":{"title":null,"labelAngle":0,"labelFontSize":20,"ticks":false,"labelPadding":16,"domainWidth":2}},"xOffset":{"field":"g","type":"nominal"},"y":{"field":"v","type":"quantitative","axis":{"values":[0,3,6,9,12,15,18],"format":"d","title":"NREMS spindle median peak (Hz)","labelFontSize":15,"titleFontSize":21,"titlePadding":20,"tickSize":6,"domainWidth":2,"labelOverlap":false}}}},
    {"data":{"values":[{}]},"mark":{"type":"text","fontSize":19,"fontWeight":"bold","align":"center","baseline":"middle","dx":-187,"dy":-39},"encoding":{"x":{"datum":"ZT 0-4","type":"nominal","axis":{"title":null,"labelAngle":0,"labelFontSize":20,"ticks":false,"labelPadding":16,"domainWidth":2}},"y":{"datum":18,"type":"quantitative","axis":{"values":[0,3,6,9,12,15,18],"format":"d","title":"NREMS spindle median peak (Hz)","labelFontSize":15,"titleFontSize":21,"titlePadding":20,"tickSize":6,"domainWidth":2,"labelOverlap":false}},"text":{"value":"D"}}},
    {"data":{"values":[{}]},"mark":{"type":"text","fontSize":16,"align":"right","baseline":"top","lineHeight":39.4,"dx":83},"encoding":{"x":{"datum":"ZT 0-4","type":"nominal","axis":{"title":null,"labelAngle":0,"labelFontSize":20,"ticks":false,"labelPadding":16,"domainWidth":2}},"y":{"datum":18.81,"type":"quantitative","axis":{"values":[0,3,6,9,12,15,18],"format":"d","title":"NREMS spindle median peak (Hz)","labelFontSize":15,"titleFontSize":21,"titlePadding":20,"tickSize":6,"domainWidth":2,"labelOverlap":false}},"text":{"value":["vs. cKO","vs. cKO"]}}},
    {"data":{"values":[{}]},"mark":{"type":"text","fontSize":16,"align":"right","baseline":"top","lineHeight":39.4,"dx":86,"dy":19.7},"encoding":{"x":{"datum":"ZT 0-4","type":"nominal","axis":{"title":null,"labelAngle":0,"labelFontSize":20,"ticks":false,"labelPadding":16,"domainWidth":2}},"y":{"datum":18.81,"type":"quantitative","axis":{"values":[0,3,6,9,12,15,18],"format":"d","title":"NREMS spindle median peak (Hz)","labelFontSize":15,"titleFontSize":21,"titlePadding":20,"tickSize":6,"domainWidth":2,"labelOverlap":false}},"text":{"value":["P = 0.5042","P = 0.9305"]}}},
    {"data":{"values":[{}]},"mark":{"type":"text","fontSize":16,"fontStyle":"italic","align":"right","baseline":"top","lineHeight":39.4,"dx":22.54},"encoding":{"x":{"datum":"ZT 0-4","type":"nominal","axis":{"title":null,"labelAngle":0,"labelFontSize":20,"ticks":false,"labelPadding":16,"domainWidth":2}},"y":{"datum":18.81,"type":"quantitative","axis":{"values":[0,3,6,9,12,15,18],"format":"d","title":"NREMS spindle median peak (Hz)","labelFontSize":15,"titleFontSize":21,"titlePadding":20,"tickSize":6,"domainWidth":2,"labelOverlap":false}},"text":{"value":["flox/flox","flox/+; En1-cre"]}}}
   ]},
  {"width":162,"height":312,"mark":"text","data":{"values":[]},"encoding":{}},
  {"width":208,"height":312,
   "layer":[
    {"data":{"name":"e_bars"},"mark":{"type":"bar"},"encoding":{
      "x":{"field":"p","type":"nominal","scale":{"domain":["ZT 0-4"],"paddingInner":0,"paddingOuter":0.15},"axis":{"title":null,"labelAngle":0,"labelFontSize":20,"ticks":false,"labelPadding":16,"domainWidth":2}},
      "xOffset":{"field":"g","type":"nominal","scale":{"domain":["ff","fc","ko"],"paddingInner":0.168,"paddingOuter":0}},
      "y":{"field":"m","type":"quantitative","scale":{"domain":[0,140],"nice":false},"axis":{"values":[0,20,40,60,80,100,120,140],"format":"d","title":["NREMS spindle amplitude","(% normalized to 24 h values)"],"titleLineHeight":22,"labelFontSize":15,"titleFontSize":21,"titlePadding":13,"tickSize":6,"domainWidth":2,"labelOverlap":false}},
      "color":{"field":"g","type":"nominal","scale":{"domain":["ff","fc","ko"],"range":["#008000","#0096ff","#ff40ff"]},"legend":null}}},
    {"data":{"name":"e_bars"},"mark":{"type":"rule","color":"black","strokeWidth":2.5},"encoding":{"x":{"field":"p","type":"nominal","axis":{"title":null,"labelAngle":0,"labelFontSize":20,"ticks":false,"labelPadding":16,"domainWidth":2}},"xOffset":{"field":"g","type":"nominal"},"y":{"field":"m","type":"quantitative","axis":{"values":[0,20,40,60,80,100,120,140],"format":"d","title":["NREMS spindle amplitude","(% normalized to 24 h values)"],"titleLineHeight":22,"labelFontSize":15,"titleFontSize":21,"titlePadding":13,"tickSize":6,"domainWidth":2,"labelOverlap":false}},"y2":{"field":"u"}}},
    {"data":{"name":"e_bars"},"mark":{"type":"tick","color":"black","size":24,"thickness":2.5},"encoding":{"x":{"field":"p","type":"nominal","axis":{"title":null,"labelAngle":0,"labelFontSize":20,"ticks":false,"labelPadding":16,"domainWidth":2}},"xOffset":{"field":"g","type":"nominal"},"y":{"field":"u","type":"quantitative","axis":{"values":[0,20,40,60,80,100,120,140],"format":"d","title":["NREMS spindle amplitude","(% normalized to 24 h values)"],"titleLineHeight":22,"labelFontSize":15,"titleFontSize":21,"titlePadding":13,"tickSize":6,"domainWidth":2,"labelOverlap":false}}}},
    {"data":{"name":"e_dots"},"mark":{"type":"point","shape":"circle","filled":true,"fill":"white","stroke":"black","strokeWidth":1.4,"size":30,"opacity":1},"encoding":{"x":{"field":"p","type":"nominal","axis":{"title":null,"labelAngle":0,"labelFontSize":20,"ticks":false,"labelPadding":16,"domainWidth":2}},"xOffset":{"field":"g","type":"nominal"},"y":{"field":"v","type":"quantitative","axis":{"values":[0,20,40,60,80,100,120,140],"format":"d","title":["NREMS spindle amplitude","(% normalized to 24 h values)"],"titleLineHeight":22,"labelFontSize":15,"titleFontSize":21,"titlePadding":13,"tickSize":6,"domainWidth":2,"labelOverlap":false}}}},
    {"data":{"values":[{}]},"mark":{"type":"text","fontSize":19,"fontWeight":"bold","align":"center","baseline":"middle","dx":-207,"dy":-39},"encoding":{"x":{"datum":"ZT 0-4","type":"nominal","axis":{"title":null,"labelAngle":0,"labelFontSize":20,"ticks":false,"labelPadding":16,"domainWidth":2}},"y":{"datum":140,"type":"quantitative","axis":{"values":[0,20,40,60,80,100,120,140],"format":"d","title":["NREMS spindle amplitude","(% normalized to 24 h values)"],"titleLineHeight":22,"labelFontSize":15,"titleFontSize":21,"titlePadding":13,"tickSize":6,"domainWidth":2,"labelOverlap":false}},"text":{"value":"E"}}},
    {"data":{"values":[{}]},"mark":{"type":"text","fontSize":16,"align":"right","baseline":"top","lineHeight":39.4,"dx":83},"encoding":{"x":{"datum":"ZT 0-4","type":"nominal","axis":{"title":null,"labelAngle":0,"labelFontSize":20,"ticks":false,"labelPadding":16,"domainWidth":2}},"y":{"datum":160.2,"type":"quantitative","axis":{"values":[0,20,40,60,80,100,120,140],"format":"d","title":["NREMS spindle amplitude","(% normalized to 24 h values)"],"titleLineHeight":22,"labelFontSize":15,"titleFontSize":21,"titlePadding":13,"tickSize":6,"domainWidth":2,"labelOverlap":false}},"text":{"value":["vs. cKO","vs. cKO"]}}},
    {"data":{"values":[{}]},"mark":{"type":"text","fontSize":16,"align":"right","baseline":"top","lineHeight":39.4,"dx":86,"dy":19.7},"encoding":{"x":{"datum":"ZT 0-4","type":"nominal","axis":{"title":null,"labelAngle":0,"labelFontSize":20,"ticks":false,"labelPadding":16,"domainWidth":2}},"y":{"datum":160.2,"type":"quantitative","axis":{"values":[0,20,40,60,80,100,120,140],"format":"d","title":["NREMS spindle amplitude","(% normalized to 24 h values)"],"titleLineHeight":22,"labelFontSize":15,"titleFontSize":21,"titlePadding":13,"tickSize":6,"domainWidth":2,"labelOverlap":false}},"text":{"value":["P = 0.8157","P = 0.9748"]}}},
    {"data":{"values":[{}]},"mark":{"type":"text","fontSize":16,"fontStyle":"italic","align":"right","baseline":"top","lineHeight":39.4,"dx":22.54},"encoding":{"x":{"datum":"ZT 0-4","type":"nominal","axis":{"title":null,"labelAngle":0,"labelFontSize":20,"ticks":false,"labelPadding":16,"domainWidth":2}},"y":{"datum":160.2,"type":"quantitative","axis":{"values":[0,20,40,60,80,100,120,140],"format":"d","title":["NREMS spindle amplitude","(% normalized to 24 h values)"],"titleLineHeight":22,"labelFontSize":15,"titleFontSize":21,"titlePadding":13,"tickSize":6,"domainWidth":2,"labelOverlap":false}},"text":{"value":["flox/flox","flox/+; En1-cre"]}}}
   ]},
  {"width":282,"height":312,"mark":"text","data":{"values":[]},"encoding":{}}
 ],"spacing":0,"bounds":"flush","resolve":{"scale":{"color":"independent"},"legend":{"color":"independent"}}},
 {"width":1343,"height":39,"mark":"text","data":{"values":[]},"encoding":{}},
 {"hconcat":[
  {"width":13,"height":96,"mark":"text","data":{"values":[]},"encoding":{}},
  {"width":1320,"height":96,
   "layer":[
    {"data":{"values":[{}]},"mark":{"type":"text","fontSize":17.85,"fontWeight":"bold","align":"left","baseline":"middle","color":"#111"},"encoding":{"x":{"datum":0,"type":"quantitative","scale":{"domain":[0,73.95],"zero":false,"nice":false},"axis":null},"y":{"datum":1,"type":"quantitative","scale":{"domain":[0.5,4.5],"reverse":true,"nice":false,"zero":false},"axis":null},"text":{"value":"FIGURE 4 |"}}},
    {"data":{"values":[{}]},"mark":{"type":"text","fontSize":17.85,"align":"left","baseline":"middle","color":"#222"},"encoding":{"x":{"datum":5.448,"type":"quantitative","axis":null},"y":{"datum":1,"type":"quantitative","axis":null},"text":{"value":"No significant differences are observed in NREMS spindles of adult male Ptf1a cKO mice. (A) NREMS spindle number of Ptf1a cKO and control mice over"}}},
    {"data":{"values":[{}]},"mark":{"type":"text","fontSize":17.85,"align":"left","baseline":"middle","color":"#222"},"encoding":{"x":{"datum":0,"type":"quantitative","axis":null},"y":{"datum":2,"type":"quantitative","axis":null},"text":{"value":"24 h and during the light and dark phases under the basal condition. (B) Hourly NREMS spindle density (spindles/minute) over 24 h in Ptf1a cKO and control mice."}}},
    {"data":{"values":[{}]},"mark":{"type":"text","fontSize":17.85,"fontWeight":"bold","align":"left","baseline":"middle","color":"#111"},"encoding":{"x":{"datum":0,"type":"quantitative","axis":null},"y":{"datum":3,"type":"quantitative","axis":null},"text":{"value":"(C–E)"}}},
    {"data":{"values":[{}]},"mark":{"type":"text","fontSize":17.85,"align":"left","baseline":"middle","color":"#222"},"encoding":{"x":{"datum":2.889,"type":"quantitative","axis":null},"y":{"datum":3,"type":"quantitative","axis":null},"text":{"value":"Quantitative analyses of NREMS spindle duration (C), median peak frequency (D), and normalized amplitude (E) during ZT0–ZT4 in Ptf1a cKO and control mice."}}},
    {"data":{"values":[{}]},"mark":{"type":"text","fontSize":17.85,"align":"left","baseline":"middle","color":"#222"},"encoding":{"x":{"datum":0,"type":"quantitative","axis":null},"y":{"datum":4,"type":"quantitative","axis":null},"text":{"value":"n = 13 for Ptf1a"}}},
    {"data":{"values":[{}]},"mark":{"type":"text","fontSize":12.5,"fontStyle":"italic","align":"left","baseline":"middle","dy":-5.4,"color":"#222"},"encoding":{"x":{"datum":6.866,"type":"quantitative","axis":null},"y":{"datum":4,"type":"quantitative","axis":null},"text":{"value":"flox/flox"}}},
    {"data":{"values":[{}]},"mark":{"type":"text","fontSize":17.85,"align":"left","baseline":"middle","color":"#222"},"encoding":{"x":{"datum":9.239,"type":"quantitative","axis":null},"y":{"datum":4,"type":"quantitative","axis":null},"text":{"value":", n = 11 for En1"}}},
    {"data":{"values":[{}]},"mark":{"type":"text","fontSize":12.5,"fontStyle":"italic","align":"left","baseline":"middle","dy":-5.4,"color":"#222"},"encoding":{"x":{"datum":16.105,"type":"quantitative","axis":null},"y":{"datum":4,"type":"quantitative","axis":null},"text":{"value":"cre/+"}}},
    {"data":{"values":[{}]},"mark":{"type":"text","fontSize":17.85,"align":"left","baseline":"middle","color":"#222"},"encoding":{"x":{"datum":17.681,"type":"quantitative","axis":null},"y":{"datum":4,"type":"quantitative","axis":null},"text":{"value":"; Ptf1a"}}},
    {"data":{"values":[{}]},"mark":{"type":"text","fontSize":12.5,"fontStyle":"italic","align":"left","baseline":"middle","dy":-5.4,"color":"#222"},"encoding":{"x":{"datum":20.572,"type":"quantitative","axis":null},"y":{"datum":4,"type":"quantitative","axis":null},"text":{"value":"flox/+"}}},
    {"data":{"values":[{}]},"mark":{"type":"text","fontSize":17.85,"align":"left","baseline":"middle","color":"#222"},"encoding":{"x":{"datum":22.265,"type":"quantitative","axis":null},"y":{"datum":4,"type":"quantitative","axis":null},"text":{"value":", n = 19 for En1"}}},
    {"data":{"values":[{}]},"mark":{"type":"text","fontSize":12.5,"fontStyle":"italic","align":"left","baseline":"middle","dy":-5.4,"color":"#222"},"encoding":{"x":{"datum":29.131,"type":"quantitative","axis":null},"y":{"datum":4,"type":"quantitative","axis":null},"text":{"value":"cre/+"}}},
    {"data":{"values":[{}]},"mark":{"type":"text","fontSize":17.85,"align":"left","baseline":"middle","color":"#222"},"encoding":{"x":{"datum":30.707,"type":"quantitative","axis":null},"y":{"datum":4,"type":"quantitative","axis":null},"text":{"value":"; Ptf1a"}}},
    {"data":{"values":[{}]},"mark":{"type":"text","fontSize":12.5,"fontStyle":"italic","align":"left","baseline":"middle","dy":-5.4,"color":"#222"},"encoding":{"x":{"datum":33.598,"type":"quantitative","axis":null},"y":{"datum":4,"type":"quantitative","axis":null},"text":{"value":"flox/flox"}}},
    {"data":{"values":[{}]},"mark":{"type":"text","fontSize":17.85,"align":"left","baseline":"middle","color":"#222"},"encoding":{"x":{"datum":35.971,"type":"quantitative","axis":null},"y":{"datum":4,"type":"quantitative","axis":null},"text":{"value":". Mixed-effects analysis followed by Tukey’s test. Data are the mean ± S.E.M."}}}
   ]},
  {"width":10,"height":96,"mark":"text","data":{"values":[]},"encoding":{}}
 ],"spacing":0,"bounds":"flush"}
],"spacing":0,"resolve":{"scale":{"color":"independent"},"legend":{"color":"independent"}}},
{"width":2,"height":933,"view":{"fill":"#707070"},"mark":"text","data":{"values":[]},"encoding":{}}
],
"spacing":0,
"resolve":{"scale":{"color":"independent"},"legend":{"color":"independent"}}
}
